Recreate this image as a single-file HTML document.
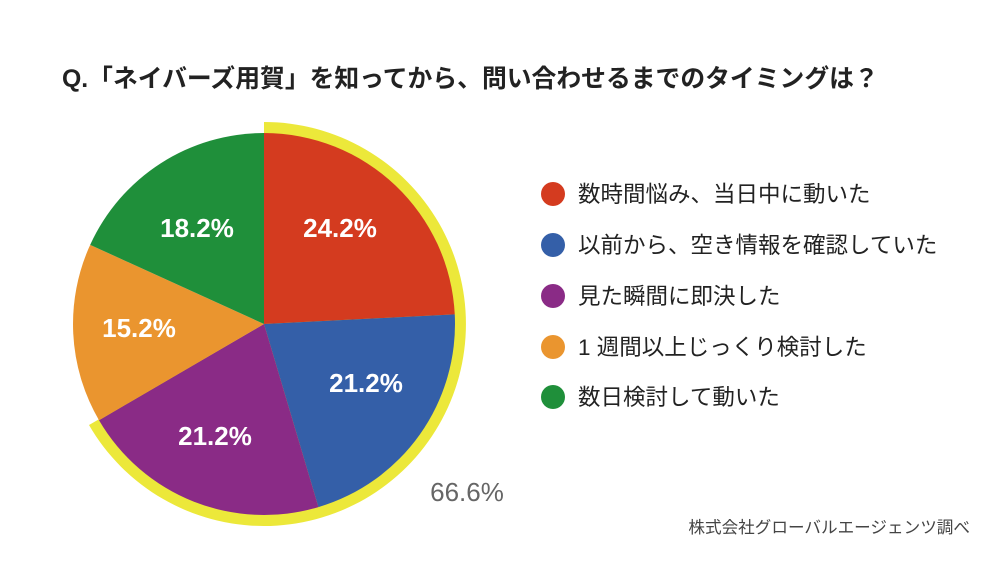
<!DOCTYPE html>
<html><head><meta charset="utf-8"><style>
body{margin:0;width:1000px;height:563px;background:#fff;overflow:hidden;font-family:"Liberation Sans","Noto Sans CJK JP",sans-serif;}
</style></head><body>
<svg width="1000" height="563" viewBox="0 0 1000 563" xmlns="http://www.w3.org/2000/svg" style="position:absolute;left:0;top:0">
<text x="62" y="87" font-family="Liberation Sans, Noto Sans CJK JP, sans-serif" font-size="24.8" font-weight="bold" fill="#222">Q.「ネイバーズ用賀」を知ってから、問い合わせるまでのタイミングは？</text>
<path d="M264,324 L264,122 A202,202 0 1 1 89,425 Z" fill="#ece83a"/>
<path d="M264,324 L264,133 A191,191 0 0 1 454.76,314.40 Z" fill="#d43b1f"/>
<path d="M264,324 L454.76,314.40 A191,191 0 0 1 318.44,507.08 Z" fill="#345fa8"/>
<path d="M264,324 L318.44,507.08 A191,191 0 0 1 99.01,420.19 Z" fill="#8a2b86"/>
<path d="M264,324 L99.01,420.19 A191,191 0 0 1 90.17,244.86 Z" fill="#ea952f"/>
<path d="M264,324 L90.17,244.86 A191,191 0 0 1 264,133 Z" fill="#1f8f3a"/>
<g font-family="Liberation Sans, sans-serif" font-size="26" font-weight="bold" fill="#fff" text-anchor="middle">
<text x="340" y="237">24.2%</text>
<text x="366" y="392">21.2%</text>
<text x="215" y="445">21.2%</text>
<text x="139" y="337">15.2%</text>
<text x="197" y="237">18.2%</text>
</g>
<text x="467" y="501" font-family="Liberation Sans, sans-serif" font-size="26" fill="#666" text-anchor="middle">66.6%</text>
<g font-family="Liberation Sans, Noto Sans CJK JP, sans-serif" font-size="22.5" fill="#222">
<circle cx="553" cy="194" r="12" fill="#d43b1f"/><text x="578" y="202">数時間悩み、当日中に動いた</text>
<circle cx="553" cy="245" r="12" fill="#345fa8"/><text x="578" y="253">以前から、空き情報を確認していた</text>
<circle cx="553" cy="296" r="12" fill="#8a2b86"/><text x="578" y="304">見た瞬間に即決した</text>
<circle cx="553" cy="347" r="12" fill="#ea952f"/><text x="578" y="355">1 週間以上じっくり検討した</text>
<circle cx="553" cy="397" r="12" fill="#1f8f3a"/><text x="578" y="405">数日検討して動いた</text>
</g>
<text x="970" y="533" font-family="Liberation Sans, Noto Sans CJK JP, sans-serif" font-size="16.6" fill="#444" text-anchor="end">株式会社グローバルエージェンツ調べ</text>
</svg>
</body></html>
